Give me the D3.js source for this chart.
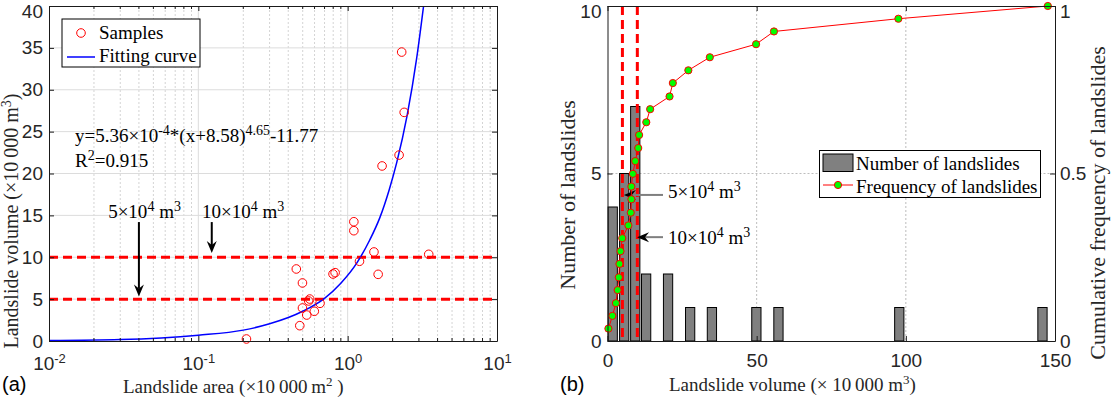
<!DOCTYPE html>
<html>
<head>
<meta charset="utf-8">
<script src="https://cdn.jsdelivr.net/npm/d3@7"></script>
<style>
body { margin: 0; background: #fff; }
svg { display: block; font-family: "Liberation Serif", "Times New Roman", serif; }
</style>
</head>
<body>
<svg id="chart" width="1111" height="399"></svg>
<script>
//----- data -----
// panel (a): samples, landslide area vs volume (x10 000)
var sampleArea   = [0.21, 0.478, 0.498, 0.532, 0.548, 0.557, 0.598, 0.653, 0.498, 0.453, 0.798, 0.824, 1.60, 1.20, 1.50, 3.49, 1.10, 1.10, 1.70, 2.21, 2.39, 2.30];
var sampleVolume = [0.24, 1.83, 3.94, 3.10, 4.78, 5.01, 3.55, 4.50, 6.93, 8.60, 8.00, 8.16, 7.96, 9.52, 10.63, 10.35, 13.17, 14.24, 20.9, 22.2, 27.3, 34.5];
// fitting curve, points
var fitArea   = [0.01, 0.03, 0.1, 0.2, 0.3, 0.5, 0.7, 0.9, 1.15, 1.4, 1.64, 1.9, 2.13, 2.5, 2.9, 3.25];
var fitVolume = [0.05, 0.17, 0.7, 1.3, 2.05, 3.55, 5.1, 6.9, 9.3, 12.0, 14.7, 18.1, 21.3, 26.9, 33.8, 40.5];
var xTicksA = [0.01, 0.1, 1, 10];
var xTickExpA = ["-2", "-1", "0", "1"];
var yTicksA = [0, 5, 10, 15, 20, 25, 30, 35, 40];
var thresholds = [5, 10];

// panel (b): histogram of volumes + cumulative frequency
var binCenters = [1.75, 5.6, 9.3, 12.95, 20.3, 27.7, 35.0, 49.9, 57.3, 97.8, 145.8];
var binCounts  = [4, 5, 7, 2, 2, 1, 1, 1, 1, 1, 1];
var binWidth = 3.1;
var cumVolume = [0.3, 1.65, 2.83, 3.4, 3.8, 4.0, 4.36, 4.95, 7.0, 7.8, 8.0, 8.0, 8.5, 9.3, 10.3, 10.6, 13.0, 14.3, 20.8, 21.9, 27.1, 34.3, 49.8, 55.8, 97.5, 147.6];
var cumFreq   = [0.037, 0.075, 0.113, 0.152, 0.190, 0.230, 0.268, 0.307, 0.345, 0.383, 0.423, 0.461, 0.499, 0.537, 0.576, 0.615, 0.653, 0.692, 0.730, 0.770, 0.808, 0.847, 0.886, 0.924, 0.962, 1.0];
var xTicksB = [0, 50, 100, 150];
var yTicksB = [0, 5, 10];
var fTicksB = [0, 0.5, 1];

var svg = d3.select("#chart");
var axisColor = "#1a1a1a";

// write text with superscripts: parts = [[text, sup], ...]
function richText(sel, parts, supSize) {
    var up = false;
    parts.forEach(function (p) {
        var t = sel.append("tspan").text(p[0]);
        if (p[1]) {
            t.attr("font-size", supSize).attr("dy", up ? 0 : -7);
            up = true;
        } else if (up) {
            t.attr("dy", 7);
            up = false;
        }
    });
    return sel;
}

// simple arrow: shaft + filled head pointing at (x2,y2)
function arrow(g, x1, y1, x2, y2, shaftColor) {
    var ang = Math.atan2(y2 - y1, x2 - x1);
    var len = 12, half = 5, notch = 8;
    var ux = Math.cos(ang), uy = Math.sin(ang);
    var bx = x2 - ux * len, by = y2 - uy * len;
    g.append("line")
        .attr("x1", x1).attr("y1", y1)
        .attr("x2", x2 - ux * notch).attr("y2", y2 - uy * notch)
        .attr("stroke", shaftColor).attr("stroke-width", 2);
    g.append("path")
        .attr("d", "M" + x2 + "," + y2 +
            "L" + (bx - uy * half) + "," + (by + ux * half) +
            "L" + (x2 - ux * notch) + "," + (y2 - uy * notch) +
            "L" + (bx + uy * half) + "," + (by - ux * half) + "Z")
        .attr("fill", "#000");
}

// keep the top tick label inside the window
function nudgeTop(sel, topValue) {
    sel.selectAll(".tick text").filter(function (d) { return d === topValue; })
        .attr("dy", "0.62em");
}

//================ panel (a) =================
var a = { left: 49, right: 497, top: 6, bottom: 341 };
var xA = d3.scaleLog().domain([0.01, 10]).range([a.left, a.right]);
var yA = d3.scaleLinear().domain([0, 40]).range([a.bottom, a.top]);
var gA = svg.append("g");

//minor grid on log axis
var minorA = [];
[0.01, 0.1, 1].forEach(function (d) {
    for (var k = 2; k <= 9; k++) minorA.push(d * k);
});
gA.append("g").selectAll("line").data(minorA).enter().append("line")
    .attr("x1", xA).attr("x2", xA)
    .attr("y1", a.top).attr("y2", a.bottom)
    .attr("stroke", "#d4d4d4").attr("stroke-dasharray", "2,2");
//major grid
gA.append("g").selectAll("line").data([0.1, 1]).enter().append("line")
    .attr("x1", xA).attr("x2", xA)
    .attr("y1", a.top).attr("y2", a.bottom)
    .attr("stroke", "#dcdcdc");
gA.append("g").selectAll("line").data(yTicksA.slice(1, -1)).enter().append("line")
    .attr("y1", yA).attr("y2", yA)
    .attr("x1", a.left).attr("x2", a.right)
    .attr("stroke", "#dcdcdc");

//threshold lines
gA.append("g").selectAll("line").data(thresholds).enter().append("line")
    .attr("y1", yA).attr("y2", yA)
    .attr("x1", a.left).attr("x2", a.right)
    .attr("stroke", "#ff0000").attr("stroke-width", 3)
    .attr("stroke-dasharray", "9,5");

//fitting curve
svg.append("clipPath").attr("id", "clipA").append("rect")
    .attr("x", a.left).attr("y", a.top)
    .attr("width", a.right - a.left).attr("height", a.bottom - a.top);
var fitLine = d3.line()
    .x(function (d, i) { return xA(fitArea[i]); })
    .y(function (d) { return yA(d); })
    .curve(d3.curveMonotoneX);
gA.append("path").datum(fitVolume)
    .attr("d", fitLine)
    .attr("clip-path", "url(#clipA)")
    .attr("fill", "none").attr("stroke", "#0000ff").attr("stroke-width", 1.5);

//samples
gA.append("g").selectAll("circle").data(sampleVolume).enter().append("circle")
    .attr("cx", function (d, i) { return xA(sampleArea[i]); })
    .attr("cy", function (d) { return yA(d); })
    .attr("r", 4.3)
    .attr("fill", "none").attr("stroke", "#ff0000").attr("stroke-width", 1);

//axes, ticks inward
var minorTickA = gA.append("g");
minorTickA.selectAll("line.b").data(minorA).enter().append("line")
    .attr("x1", xA).attr("x2", xA).attr("y1", a.bottom).attr("y2", a.bottom - 3)
    .attr("stroke", axisColor);
minorTickA.selectAll("line.t").data(minorA).enter().append("line")
    .attr("x1", xA).attr("x2", xA).attr("y1", a.top).attr("y2", a.top + 3)
    .attr("stroke", axisColor);

var xAxisA = gA.append("g")
    .attr("transform", "translate(0," + a.bottom + ")")
    .call(d3.axisBottom(xA).tickValues(xTicksA).tickSizeInner(-5).tickSizeOuter(0).tickFormat(""));
xAxisA.selectAll(".tick text").each(function (d, i) {
    var t = d3.select(this).attr("y", 29).attr("dy", 0).attr("font-size", 19);
    richText(t, [["10", false], [xTickExpA[i], true]], 13);
});
gA.append("g")
    .attr("transform", "translate(0," + a.top + ")")
    .call(d3.axisTop(xA).tickValues(xTicksA).tickSizeInner(-5).tickSizeOuter(0))
    .selectAll("text").remove();
var yAxisA = gA.append("g")
    .attr("transform", "translate(" + a.left + ",0)")
    .call(d3.axisLeft(yA).tickValues(yTicksA).tickSizeInner(-5).tickSizeOuter(0).tickPadding(6));
yAxisA.selectAll("text").attr("font-size", 19);
nudgeTop(yAxisA, 40);
gA.append("g")
    .attr("transform", "translate(" + a.right + ",0)")
    .call(d3.axisRight(yA).tickValues(yTicksA).tickSizeInner(-5).tickSizeOuter(0))
    .selectAll("text").remove();
gA.selectAll(".domain, .tick line").attr("stroke", axisColor);
gA.selectAll(".tick text").attr("fill", "#262626").attr("font-family", null);

//legend (a)
var legA = gA.append("g");
legA.append("rect").attr("x", 62).attr("y", 19).attr("width", 138).attr("height", 48)
    .attr("fill", "#fff").attr("stroke", "#000");
legA.append("circle").attr("cx", 81).attr("cy", 33).attr("r", 4.3)
    .attr("fill", "none").attr("stroke", "#ff0000");
legA.append("line").attr("x1", 67).attr("x2", 95).attr("y1", 57).attr("y2", 57)
    .attr("stroke", "#0000ff").attr("stroke-width", 1.5);
legA.append("text").attr("x", 99).attr("y", 39).attr("font-size", 19).text("Samples");
legA.append("text").attr("x", 99).attr("y", 62).attr("font-size", 19).text("Fitting curve");

//equation
richText(gA.append("text").attr("x", 75).attr("y", 141.5).attr("font-size", 19),
    [["y=5.36\u00D710", false], ["-4", true], ["*(x+8.58)", false], ["4.65", true], ["-11.77", false]], 14);
richText(gA.append("text").attr("x", 75).attr("y", 166.5).attr("font-size", 19),
    [["R", false], ["2", true], ["=0.915", false]], 14);

//threshold annotations (data units)
var noteA = [{ x: 0.0249, y: 14.7, ax: 0.040, y1: 14.2, y2: 5.3, lbl: "5" },
             { x: 0.106, y: 14.7, ax: 0.123, y1: 14.2, y2: 10.5, lbl: "10" }];
noteA.forEach(function (n) {
    richText(gA.append("text").attr("x", xA(n.x)).attr("y", yA(n.y)).attr("font-size", 19),
        [[n.lbl + "\u00D710", false], ["4", true], [" m", false], ["3", true]], 14);
    arrow(gA, xA(n.ax), yA(n.y1), xA(n.ax), yA(n.y2), "#000");
});

//titles (a)
richText(gA.append("text").attr("x", 123).attr("y", 393).attr("font-size", 19).attr("fill", "#262626"),
    [["Landslide area (\u00D710\u2009000\u2009m", false], ["2", true], [" )", false]], 13);
richText(gA.append("text").attr("transform", "translate(18,221) rotate(-90)")
    .attr("text-anchor", "middle").attr("font-size", 20).attr("fill", "#262626"),
    [["Landslide volume (\u00D710\u2009000 m", false], ["3", true], [")", false]], 14);
gA.append("text").attr("x", 2).attr("y", 391).attr("font-size", 20)
    .attr("font-family", "'Liberation Sans', Arial, sans-serif").text("(a)");

//================ panel (b) =================
var b = { left: 607.5, right: 1055, top: 6, bottom: 341 };
var xB = d3.scaleLinear().domain([0, 150]).range([b.left, b.right]);
var yB = d3.scaleLinear().domain([0, 10]).range([b.bottom, b.top]);
var fB = d3.scaleLinear().domain([0, 1]).range([b.bottom, b.top]);
var gB = svg.append("g");

//dotted grid
gB.append("g").selectAll("line").data([50, 100]).enter().append("line")
    .attr("x1", xB).attr("x2", xB).attr("y1", b.top).attr("y2", b.bottom)
    .attr("stroke", "#bdbdbd").attr("stroke-dasharray", "2,2");
gB.append("line").attr("x1", b.left).attr("x2", b.right).attr("y1", yB(5)).attr("y2", yB(5))
    .attr("stroke", "#bdbdbd").attr("stroke-dasharray", "2,2");

//bars
gB.append("g").selectAll("rect").data(binCounts).enter().append("rect")
    .attr("x", function (d, i) { return xB(binCenters[i] - binWidth / 2); })
    .attr("width", xB(binWidth) - xB(0))
    .attr("y", function (d) { return yB(d); })
    .attr("height", function (d) { return yB(0) - yB(d); })
    .attr("fill", "#808080").attr("stroke", "#000").attr("stroke-width", 1);

//threshold lines
gB.append("g").selectAll("line").data(thresholds).enter().append("line")
    .attr("x1", xB).attr("x2", xB).attr("y1", b.top).attr("y2", b.bottom)
    .attr("stroke", "#ff0000").attr("stroke-width", 3)
    .attr("stroke-dasharray", "9,5");

//annotation arrows (volume, count units)
var noteB = [{ tx: 20.3, ty: 4.27, x1: 18.6, x2: 5.5, y: 4.36, lbl: "5" },
             { tx: 20.3, ty: 2.9, x1: 18.6, x2: 9.9, y: 3.1, lbl: "10" }];
noteB.forEach(function (n) {
    arrow(gB, xB(n.x1), yB(n.y), xB(n.x2), yB(n.y), "#7f7f7f");
    richText(gB.append("text").attr("x", xB(n.tx)).attr("y", yB(n.ty)).attr("font-size", 19),
        [[n.lbl + "\u00D710", false], ["4", true], [" m", false], ["3", true]], 14);
});

//cumulative frequency
var cumLine = d3.line()
    .x(function (d, i) { return xB(cumVolume[i]); })
    .y(function (d) { return fB(d); });
gB.append("path").datum(cumFreq).attr("d", cumLine)
    .attr("fill", "none").attr("stroke", "#ff0000").attr("stroke-width", 1);
gB.append("g").selectAll("circle").data(cumFreq).enter().append("circle")
    .attr("cx", function (d, i) { return xB(cumVolume[i]); })
    .attr("cy", function (d) { return fB(d); })
    .attr("r", 3.6)
    .attr("fill", "#00ff00").attr("stroke", "#ff0000").attr("stroke-width", 1);

//axes
gB.append("g")
    .attr("transform", "translate(0," + b.bottom + ")")
    .call(d3.axisBottom(xB).tickValues(xTicksB).tickSizeInner(-5).tickSizeOuter(0).tickPadding(13))
    .selectAll("text").attr("font-size", 19);
gB.append("g")
    .attr("transform", "translate(0," + b.top + ")")
    .call(d3.axisTop(xB).tickValues(xTicksB).tickSizeInner(-5).tickSizeOuter(0))
    .selectAll("text").remove();
var yAxisB = gB.append("g")
    .attr("transform", "translate(" + b.left + ",0)")
    .call(d3.axisLeft(yB).tickValues(yTicksB).tickSizeInner(-5).tickSizeOuter(0).tickPadding(6));
yAxisB.selectAll("text").attr("font-size", 19);
nudgeTop(yAxisB, 10);
var fAxisB = gB.append("g")
    .attr("transform", "translate(" + b.right + ",0)")
    .call(d3.axisRight(fB).tickValues(fTicksB).tickSizeInner(-5).tickSizeOuter(0).tickPadding(5).tickFormat(d3.format("")));
fAxisB.selectAll("text").attr("font-size", 19);
nudgeTop(fAxisB, 1);
gB.selectAll(".domain, .tick line").attr("stroke", axisColor);
gB.selectAll(".tick text").attr("fill", "#262626").attr("font-family", null);

//legend (b)
var legB = gB.append("g");
legB.append("rect").attr("x", 819.5).attr("y", 150.5).attr("width", 221).attr("height", 47)
    .attr("fill", "#fff").attr("stroke", "#000");
legB.append("rect").attr("x", 823).attr("y", 154).attr("width", 30).attr("height", 17.5)
    .attr("fill", "#808080").attr("stroke", "#000");
legB.append("line").attr("x1", 823).attr("x2", 853).attr("y1", 185).attr("y2", 185)
    .attr("stroke", "#ff0000");
legB.append("circle").attr("cx", 838).attr("cy", 185).attr("r", 3.6)
    .attr("fill", "#00ff00").attr("stroke", "#ff0000");
legB.append("text").attr("x", 856).attr("y", 169.5).attr("font-size", 19).text("Number of landslides");
legB.append("text").attr("x", 856).attr("y", 192.5).attr("font-size", 19).text("Frequency of landslides");

//titles (b)
richText(gB.append("text").attr("x", 669).attr("y", 391).attr("font-size", 19).attr("fill", "#262626"),
    [["Landslide volume (\u00D7 10\u2009000 m", false], ["3", true], [")", false]], 13);
gB.append("text").attr("transform", "translate(575,195) rotate(-90)")
    .attr("text-anchor", "middle").attr("font-size", 22).attr("fill", "#262626")
    .text("Number of landslides");
gB.append("text").attr("transform", "translate(1105,203) rotate(-90)")
    .attr("text-anchor", "middle").attr("font-size", 22).attr("fill", "#262626")
    .text("Cumulative frequency of landslides");
gB.append("text").attr("x", 560).attr("y", 391).attr("font-size", 20)
    .attr("font-family", "'Liberation Sans', Arial, sans-serif").text("(b)");
</script>
</body>
</html>
